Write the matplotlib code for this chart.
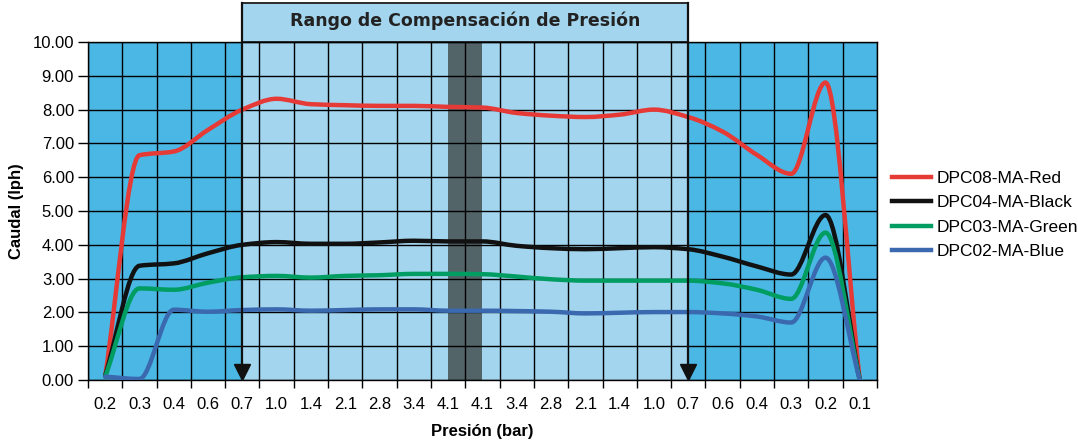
import numpy as np
import matplotlib.pyplot as plt
from matplotlib.path import Path
from matplotlib.patches import PathPatch, Rectangle
from matplotlib.lines import Line2D

# Datos
presion = ['0.2', '0.3', '0.4', '0.6', '0.7', '1.0', '1.4', '2.1', '2.8', '3.4', '4.1',
           '4.1', '3.4', '2.8', '2.1', '1.4', '1.0', '0.7', '0.6', '0.4', '0.3', '0.2', '0.1']

red = [0.10, 6.65, 6.76, 7.40, 8.00, 8.32, 8.16, 8.13, 8.11, 8.11, 8.08,
       8.06, 7.90, 7.82, 7.78, 7.85, 8.00, 7.78, 7.35, 6.66, 6.10, 8.80, 0.00]
black = [0.12, 3.38, 3.45, 3.75, 4.00, 4.08, 4.03, 4.03, 4.07, 4.12, 4.10,
         4.10, 3.97, 3.90, 3.87, 3.90, 3.93, 3.87, 3.65, 3.36, 3.12, 4.88, 0.00]
green = [0.10, 2.71, 2.67, 2.88, 3.04, 3.08, 3.03, 3.08, 3.10, 3.14, 3.14,
         3.13, 3.06, 2.98, 2.94, 2.94, 2.94, 2.94, 2.86, 2.67, 2.40, 4.36, 0.00]
blue = [0.10, 0.03, 2.08, 2.02, 2.07, 2.09, 2.05, 2.07, 2.09, 2.09, 2.05,
        2.05, 2.04, 2.02, 1.97, 1.99, 2.01, 2.01, 1.97, 1.88, 1.70, 3.62, 0.00]

series = [('DPC08-MA-Red', red, '#e63a37'),
          ('DPC04-MA-Black', black, '#111111'),
          ('DPC03-MA-Green', green, '#009d62'),
          ('DPC02-MA-Blue', blue, '#3a69b0')]

azul_oscuro = '#4bb7e4'
azul_claro = '#a3d5ee'
gris_banda = '#536469'


# Línea suavizada: curva Bézier con tangentes monótonas (sin sobrepasos)
def smooth_path(x, y):
    x = np.asarray(x, float)
    y = np.asarray(y, float)
    n = len(y)
    d = np.diff(y) / np.diff(x)
    m = np.zeros(n)
    m[0], m[-1] = d[0], d[-1]
    for i in range(1, n - 1):
        if d[i - 1] * d[i] > 0:
            m[i] = 2 / (1 / d[i - 1] + 1 / d[i])
    verts = [(x[0], y[0])]
    codes = [Path.MOVETO]
    for i in range(n - 1):
        h = (x[i + 1] - x[i]) / 3
        verts += [(x[i] + h, y[i] + m[i] * h),
                  (x[i + 1] - h, y[i + 1] - m[i + 1] * h),
                  (x[i + 1], y[i + 1])]
        codes += [Path.CURVE4] * 3
    return Path(verts, codes)


plt.rcParams['font.family'] = ['Liberation Sans', 'DejaVu Sans']

fig = plt.figure(figsize=(10.78, 4.43), dpi=100)
ax = fig.add_axes([0.0816, 0.1422, 0.7319, 0.7630])

x = np.arange(len(presion))
ax.set_xlim(-0.5, len(presion) - 0.5)
ax.set_ylim(0, 10)
ax.set_facecolor(azul_oscuro)

# Zonas de fondo
ax.axvspan(4, 17, color=azul_claro, lw=0, zorder=0)
ax.axvspan(10, 11, color=gris_banda, lw=0, zorder=0.5)

# Rejilla
ax.set_xticks(x)
ax.set_xticklabels(presion, fontsize=12)
ax.set_xticks(np.arange(-0.5, len(presion)), minor=True)
ax.tick_params(axis='x', which='major', length=0, pad=12)
ax.tick_params(axis='x', which='minor', length=6, width=1, color='black')
ax.set_yticks(np.arange(0, 11, 1))
ax.set_yticklabels([f'{v:.2f}' for v in range(11)], fontsize=12)
ax.tick_params(axis='y', length=7, width=1, pad=3)
ax.grid(True, which='minor', axis='x', color='black', lw=1, zorder=1)
ax.grid(True, which='major', axis='y', color='black', lw=1, zorder=1)
for s in ax.spines.values():
    s.set_linewidth(1)

# Curvas
for name, vals, col in series:
    patch = PathPatch(smooth_path(x, vals), fill=False, edgecolor=col, lw=3.2,
                      capstyle='round', joinstyle='round', zorder=3)
    ax.add_patch(patch)

# Recuadro del rango de compensación
trans = ax.get_xaxis_transform()
ax.add_patch(Rectangle((4, 1.0), 13, 0.116, transform=trans, facecolor=azul_claro,
                       edgecolor='#2b2b2b', lw=1.4, clip_on=False, zorder=2))
ax.text(10.5, 1.063, 'Rango de Compensación de Presión', transform=trans,
        ha='center', va='center', fontsize=12.5, fontweight='bold',
        family='DejaVu Sans', color='#222222')
for xa in (4, 17):
    ax.plot([xa, xa], [0.03, 1.116], transform=trans, color='#111111', lw=1.6,
            clip_on=False, zorder=6)
    ax.plot([xa], [0.025], transform=trans, marker='v', ms=11, color='#111111',
            clip_on=False, zorder=6)

ax.set_xlabel('Presión (bar)', fontsize=12, fontweight='bold', labelpad=9)
ax.set_ylabel('Caudal (lph)', fontsize=12, fontweight='bold', labelpad=6)

handles = [Line2D([], [], color=c, lw=3.2) for _, _, c in series]
fig.legend(handles, [n for n, _, _ in series], loc='center left',
           bbox_to_anchor=(0.827, 0.515), frameon=False, fontsize=12.5,
           handlelength=2.3, handletextpad=0.3, labelspacing=0.53,
           borderaxespad=0, borderpad=0)

plt.savefig('out.png', dpi=100)
